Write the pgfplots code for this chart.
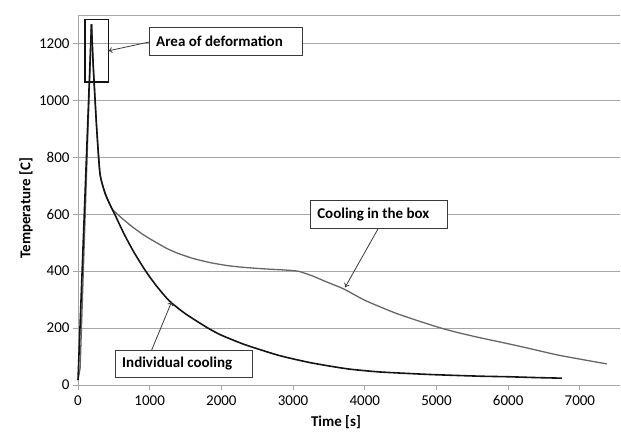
\documentclass[border=0pt]{standalone}
\usepackage{pgfplots}
\pgfplotsset{compat=1.18}
\usepackage{fontspec}
\setmainfont{Carlito}
\usetikzlibrary{arrows.meta}
\definecolor{gridc}{HTML}{A6A6A6}
\definecolor{boxc}{HTML}{3A3A3A}
\definecolor{grayc}{HTML}{666666}
\definecolor{blk}{HTML}{141414}
\begin{document}
\begin{tikzpicture}
\begin{axis}[
  scale only axis, width=542pt, height=370pt,
  xmin=0, xmax=7560, ymin=0, ymax=1300,
  font=\fontsize{15}{17}\selectfont,
  /pgf/number format/assume math mode=true,
  /pgf/number format/1000 sep={},
  scaled x ticks=false, scaled y ticks=false,
  xtick={0,1000,...,7000}, ytick={0,200,...,1200},
  axis lines=left, axis line style={-, gridc, line width=0.9pt},
  tick align=outside, major tick length=5pt,
  tick style={gridc, line width=0.9pt},
  ymajorgrids, grid style={gridc, line width=0.9pt},
  xlabel={\bfseries Time [s]}, ylabel={\bfseries Temperature [C]},
  xlabel style={at={(rel axis cs:0.476,0)}, anchor=center, yshift=-37pt},
  ylabel style={at={(rel axis cs:0,0.478)}, anchor=center, yshift=52pt},
  xticklabel style={yshift=-2pt},
  clip=false,
]
\coordinate (sw) at (rel axis cs:0,0);
\coordinate (ne) at (rel axis cs:1,1);
\draw[gridc, line width=0.9pt] (rel axis cs:0,1) -- (rel axis cs:1,1);
% Cooling in the box (gray)
\addplot[grayc, line width=1.3pt] coordinates {(0,17) (30,60) (188,1267)};
\addplot[grayc, line width=1.3pt, smooth, tension=0.35] coordinates {
(188,1267) (214,1115) (260,905) (307,742) (380,672) (470,621)
(550,600) (650,578) (772,553) (900,530) (1000,514) (1237,480) (1400,462)
(1600,445) (1842,430) (2100,419) (2325,413) (2600,408) (2818,405) (3000,402)
(3100,398) (3283,382) (3450,364) (3702,338) (3981,300) (4200,276) (4446,251)
(4750,225) (5050,201) (5300,184) (5608,166) (5981,146) (6300,128) (6679,106)
(7000,91) (7376,74)
};
% Individual cooling (black)
\addplot[blk, line width=1.6pt] coordinates {(0,17) (188,1267)};
\addplot[blk, line width=1.6pt, smooth, tension=0.35] coordinates {
(188,1267) (214,1115) (260,905) (307,742) (380,672) (470,621) (516,598)
(640,532) (772,470) (911,413) (1000,380) (1120,340) (1279,294) (1500,250)
(1812,200) (2000,175) (2325,142) (2800,104) (3250,78) (3750,57) (4200,46)
(4900,37) (5600,31) (6000,29) (6400,26) (6750,24)
};
% deformation area rectangle
\draw[blk, line width=1.4pt] (axis cs:98,1064) rectangle (axis cs:423,1285);
% annotation boxes
\draw[boxc, line width=0.9pt, fill=white] (axis cs:991,1159) rectangle (axis cs:3125,1258);
\node[anchor=west, inner sep=0pt] at (axis cs:991,1208) {\hspace{7pt}\bfseries Area of deformation};
\draw[boxc, line width=0.8pt, -{To[length=4pt,width=6pt]}] (axis cs:991,1205) -- (axis cs:423,1174);

\draw[boxc, line width=0.9pt, fill=white] (axis cs:3237,551) rectangle (axis cs:5149,650);
\node[anchor=west, inner sep=0pt] at (axis cs:3237,600) {\hspace{7pt}\bfseries Cooling in the box};
\draw[boxc, line width=0.8pt, -{To[length=4pt,width=6pt]}] (axis cs:4190,551) -- (axis cs:3725,343);

\draw[boxc, line width=0.9pt, fill=white] (axis cs:516,27) rectangle (axis cs:2432,123);
\node[anchor=west, inner sep=0pt] at (axis cs:516,75) {\hspace{7pt}\bfseries Individual cooling};
\draw[boxc, line width=0.8pt, -{To[length=4pt,width=6pt]}] (axis cs:1028,123) -- (axis cs:1307,293);
\end{axis}
\pgfresetboundingbox
\path[use as bounding box] ([xshift=-78pt,yshift=-46pt]sw) rectangle ([xshift=1pt,yshift=15pt]ne);
\end{tikzpicture}
\end{document}
